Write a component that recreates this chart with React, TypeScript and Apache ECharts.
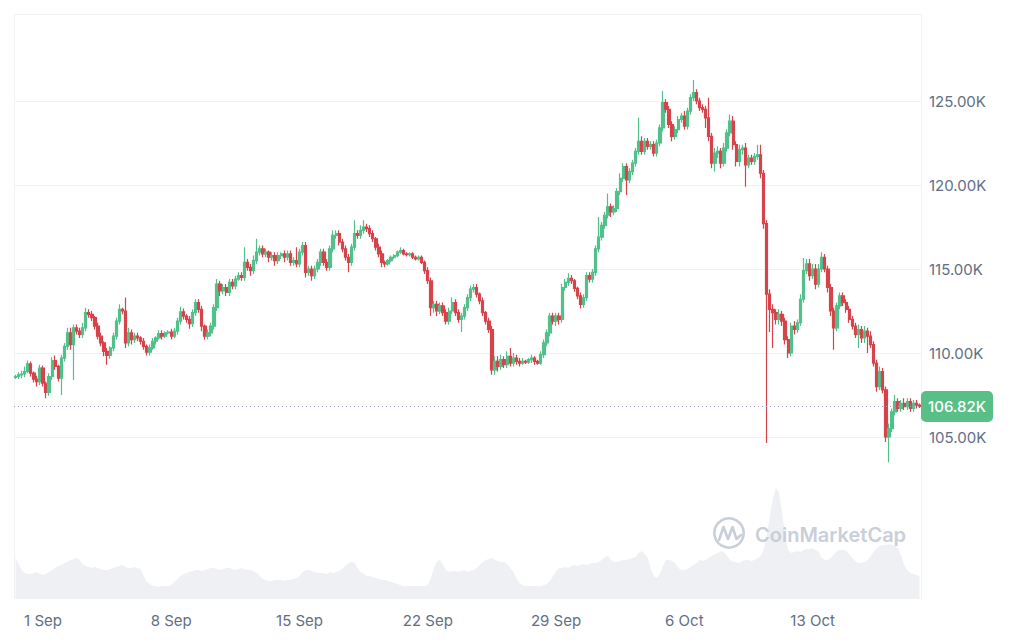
import React, { useEffect, useRef } from "react";
import * as echarts from "echarts";

// 4-hour candles starting 30 Aug 2025 12:00 UTC
const startTime = Date.UTC(2025, 7, 30, 12);
const stepHours = 4;
const firstOpen = 108.55;

// closing prices (thousands USD)
const closes = [
  108.6, 108.7, 108.75, 108.9, 109.35, 108.8, 108.45, 108.3, 109.1, 108.2,
  107.65, 108.6, 109.55, 109.2, 108.5, 109.7, 110.4, 111.2, 110.5, 111.5,
  111.3, 111.1, 111.5, 112.4, 112.3, 112.1, 111.6, 111.0, 110.6, 110.1,
  109.85, 110.3, 111.0, 111.9, 112.6, 112.5, 110.6, 111.2, 110.8, 111.0,
  110.9, 110.7, 110.4, 110.05, 110.3, 110.7, 110.9, 111.15, 111.0, 111.2,
  111.25, 111.0, 111.3, 111.9, 112.45, 112.2, 112.0, 111.75, 112.4, 113.0,
  112.6, 111.6, 111.0, 111.2, 111.6, 112.7, 114.1, 113.7, 113.9, 113.6,
  114.2, 114.0, 114.4, 114.6, 114.5, 115.4, 115.1, 114.9, 115.5, 116.0,
  116.2, 115.9, 116.0, 115.7, 115.8, 115.5, 115.8, 115.9, 115.7, 115.9,
  115.4, 115.5, 115.3, 116.0, 116.4, 114.8, 115.0, 114.6, 115.0, 115.4,
  116.0, 115.4, 115.1, 116.2, 117.0, 117.1, 116.6, 116.2, 115.7, 115.4,
  116.3, 117.1, 117.0, 117.3, 117.5, 117.4, 117.1, 116.8, 116.3, 115.9,
  115.4, 115.3, 115.5, 115.7, 115.8, 116.0, 116.1, 115.9, 115.85, 115.9,
  115.7, 115.6, 115.7, 115.4, 114.9, 114.3, 112.7, 112.9, 112.5, 112.8,
  112.4, 111.9, 112.5, 113.0, 112.4, 112.0, 112.2, 112.7, 113.3, 113.8,
  113.9, 113.5, 113.1, 112.4, 111.9, 111.4, 109.0, 109.5, 109.2, 109.6,
  109.3, 109.8, 109.4, 109.7, 109.5, 109.4, 109.5, 109.45, 109.6, 109.7,
  109.5, 109.4, 109.9, 110.6, 111.2, 112.2, 111.9, 112.2, 112.0, 113.9,
  114.2, 114.45, 114.3, 113.85, 113.4, 112.9, 113.3, 114.6, 114.4, 114.8,
  116.2, 116.9, 117.6, 118.2, 118.7, 118.4, 118.6, 119.6, 120.4, 121.1,
  120.3, 120.8, 121.3, 122.0, 122.6, 122.0, 122.6, 122.3, 122.4, 121.9,
  122.5, 123.4, 124.9, 124.5, 123.6, 122.9, 123.3, 123.9, 124.1, 123.5,
  124.4, 125.2, 125.5, 125.0, 124.6, 124.5, 124.0, 122.9, 121.3, 121.9,
  122.0, 121.3, 122.2, 123.1, 123.8, 122.4, 121.4, 122.1, 122.2, 121.2,
  121.6, 121.4, 121.7, 121.8, 120.7, 117.7, 113.5, 112.6, 112.4, 112.0,
  112.3, 111.9, 110.8, 110.0, 111.6, 111.4, 111.8, 113.2, 114.9, 115.3,
  114.6, 115.0, 114.1, 115.0, 115.7, 115.0, 113.9, 112.5, 111.5, 112.8,
  113.4, 113.0, 112.6, 112.0, 111.6, 111.1, 111.4, 110.9, 111.3, 111.0,
  110.5, 109.4, 108.0, 108.9, 107.8, 105.0, 105.5, 106.5, 107.1, 106.7,
  107.0, 106.8, 107.1, 106.7, 107.0, 106.9, 106.82,
];

// wick lengths above body top (thousands USD)
const upperWicks = [
  0.1, 0.15, 0.2, 0.3, 0.2, 0.15, 0.1, 0.2, 0.2, 0.15,
  0.1, 0.2, 0.2, 0.3, 0.1, 0.2, 0.2, 0.3, 0.3, 0.2,
  0.2, 0.2, 0.3, 0.3, 0.2, 0.2, 0.1, 0.2, 0.2, 0.1,
  0.2, 0.1, 0.2, 0.2, 0.3, 0.1, 0.8, 0.3, 0.2, 0.2,
  0.2, 0.1, 0.2, 0.1, 0.2, 0.2, 0.1, 0.2, 0.2, 0.1,
  0.1, 0.2, 0.2, 0.2, 0.3, 0.2, 0.1, 0.2, 0.2, 0.2,
  0.2, 0.2, 0.1, 0.2, 0.2, 0.2, 0.3, 0.2, 0.2, 0.2,
  0.2, 0.2, 0.2, 0.2, 0.2, 0.9, 0.2, 0.2, 0.3, 0.8,
  0.2, 0.2, 0.2, 0.1, 0.2, 0.2, 0.2, 0.1, 0.2, 0.2,
  0.2, 0.2, 0.8, 0.2, 0.2, 0.2, 0.2, 0.2, 0.2, 0.2,
  0.2, 0.2, 0.2, 0.2, 0.3, 0.2, 0.2, 0.2, 0.2, 0.2,
  0.2, 0.8, 0.2, 0.3, 0.4, 0.2, 0.2, 0.2, 0.1, 0.2,
  0.2, 0.1, 0.1, 0.1, 0.1, 0.1, 0.2, 0.1, 0.1, 0.1,
  0.1, 0.1, 0.1, 0.1, 0.1, 0.2, 0.2, 0.2, 0.2, 0.2,
  0.2, 0.2, 0.2, 0.3, 0.2, 0.2, 0.2, 0.2, 0.2, 0.2,
  0.2, 0.2, 0.1, 0.2, 0.1, 0.2, 0.2, 0.3, 0.3, 0.3,
  0.2, 0.3, 0.5, 0.3, 0.2, 0.2, 0.2, 0.1, 0.1, 0.2,
  0.1, 0.1, 0.2, 0.2, 0.2, 0.2, 0.2, 0.2, 0.2, 0.2,
  0.2, 0.3, 0.2, 0.1, 0.1, 0.2, 0.2, 0.2, 0.2, 0.2,
  0.2, 1.2, 0.2, 0.2, 0.8, 0.2, 0.2, 0.2, 0.3, 0.2,
  0.2, 0.2, 0.2, 0.2, 1.4, 0.3, 0.2, 0.2, 0.2, 0.2,
  0.2, 0.2, 0.7, 0.2, 0.2, 0.2, 0.2, 0.2, 0.2, 0.3,
  0.2, 0.2, 0.75, 0.2, 0.2, 0.2, 0.2, 1.2, 0.2, 0.3,
  0.3, 0.2, 0.3, 0.2, 0.4, 0.3, 0.2, 0.3, 0.2, 0.3,
  0.2, 0.2, 0.2, 0.6, 0.6, 0.2, 0.2, 0.3, 0.3, 0.2,
  0.3, 0.2, 0.2, 0.2, 0.2, 0.3, 0.2, 0.3, 0.75, 0.3,
  0.3, 0.3, 0.3, 0.3, 0.3, 0.2, 0.2, 0.2, 0.2, 0.2,
  0.2, 0.2, 0.2, 0.2, 0.2, 0.2, 0.3, 0.2, 0.3, 0.2,
  0.3, 0.2, 0.2, 0.3, 0.2, 0.2, 0.3, 0.2, 0.4, 0.2,
  0.2, 0.3, 0.2, 0.2, 0.2, 0.2, 0.1,
];

// wick lengths below body bottom (thousands USD)
const lowerWicks = [
  0.1, 0.15, 0.2, 0.2, 0.1, 0.2, 0.2, 0.3, 0.2, 0.2,
  0.35, 0.2, 0.2, 0.2, 0.2, 1.0, 0.2, 0.2, 0.3, 2.1,
  0.2, 0.2, 0.2, 0.2, 0.2, 0.2, 0.2, 0.2, 0.2, 0.3,
  0.55, 0.2, 0.2, 0.2, 0.2, 0.2, 0.3, 0.2, 0.3, 0.2,
  0.2, 0.2, 0.2, 0.2, 0.2, 0.1, 0.2, 0.1, 0.2, 0.1,
  0.1, 0.2, 0.1, 0.2, 0.2, 0.2, 0.2, 0.3, 0.2, 0.2,
  0.2, 0.3, 0.2, 0.2, 0.2, 0.2, 0.2, 0.3, 0.2, 0.2,
  0.2, 0.2, 0.2, 0.1, 0.2, 0.2, 0.2, 0.3, 0.2, 0.2,
  0.2, 0.2, 0.2, 0.3, 0.2, 0.3, 0.2, 0.2, 0.3, 0.2,
  0.2, 0.2, 0.2, 0.2, 0.2, 0.3, 0.2, 0.3, 0.2, 0.2,
  0.2, 0.2, 0.2, 0.2, 0.2, 0.2, 0.2, 0.2, 0.2, 0.6,
  0.2, 0.2, 0.2, 0.2, 0.2, 0.2, 0.2, 0.2, 0.2, 0.2,
  0.3, 0.2, 0.1, 0.1, 0.1, 0.1, 0.1, 0.1, 0.1, 0.1,
  0.1, 0.1, 0.1, 0.1, 0.2, 0.2, 0.5, 0.3, 0.3, 0.2,
  0.2, 0.2, 0.2, 0.2, 0.2, 0.2, 0.75, 0.2, 0.2, 0.2,
  0.2, 0.2, 0.2, 0.2, 0.2, 0.2, 0.3, 0.3, 0.3, 0.2,
  0.2, 0.2, 0.2, 0.2, 0.2, 0.2, 0.1, 0.1, 0.1, 0.2,
  0.2, 0.1, 0.1, 0.2, 0.2, 0.2, 0.2, 0.3, 0.3, 0.2,
  0.2, 0.2, 0.2, 0.2, 0.2, 0.25, 0.2, 0.2, 0.2, 0.2,
  0.2, 0.2, 0.2, 0.2, 0.2, 0.3, 0.2, 0.2, 0.2, 0.2,
  0.9, 0.2, 0.2, 0.2, 0.2, 0.2, 0.2, 0.2, 0.2, 0.2,
  0.2, 0.2, 0.2, 0.2, 0.2, 0.3, 0.2, 0.2, 0.2, 0.2,
  0.2, 0.2, 0.2, 0.2, 0.2, 0.2, 0.6, 0.3, 0.3, 0.5,
  0.3, 0.3, 0.2, 0.2, 0.2, 0.3, 0.3, 0.3, 0.3, 1.3,
  0.2, 0.2, 0.2, 0.2, 0.3, 0.3, 8.85, 1.35, 2.1, 0.3,
  0.3, 0.3, 0.3, 0.3, 0.2, 0.3, 0.2, 0.2, 0.2, 0.2,
  0.3, 0.2, 0.3, 0.2, 0.2, 0.2, 0.3, 0.3, 1.3, 0.2,
  0.2, 0.2, 0.2, 0.2, 0.2, 0.2, 0.8, 0.3, 0.3, 1.0,
  0.2, 0.2, 0.3, 0.2, 0.2, 0.3, 1.5, 0.2, 0.2, 0.2,
  0.2, 0.2, 0.2, 0.2, 0.2, 0.2, 0.1,
];

// traded volume (relative units)
const volumes = [
  40, 34, 28, 25, 24, 24, 25, 26, 24, 23,
  24, 26, 28, 30, 32, 33, 35, 36, 38, 39,
  40, 38, 34, 32, 31, 30, 31, 30, 29, 28,
  28, 29, 30, 31, 32, 33, 31, 30, 30, 31,
  30, 29, 22, 16, 14, 12, 12, 11, 12, 12,
  12, 13, 16, 19, 22, 24, 25, 26, 27, 28,
  28, 27, 28, 29, 30, 30, 29, 28, 29, 30,
  30, 29, 28, 29, 30, 29, 28, 28, 27, 25,
  22, 19, 18, 17, 17, 18, 18, 18, 17, 18,
  18, 19, 20, 22, 26, 28, 28, 27, 26, 25,
  25, 25, 24, 26, 25, 26, 27, 29, 32, 35,
  36, 35, 30, 26, 24, 22, 22, 21, 20, 19,
  18, 18, 17, 16, 15, 14, 13, 12, 12, 12,
  12, 12, 12, 12, 12, 13, 20, 30, 37, 38,
  33, 28, 26, 27, 27, 26, 27, 28, 26, 27,
  28, 30, 33, 36, 38, 39, 40, 38, 37, 36,
  36, 34, 30, 26, 20, 15, 13, 12, 12, 12,
  12, 12, 12, 13, 14, 17, 22, 27, 30, 30,
  31, 30, 32, 33, 32, 33, 34, 33, 34, 35,
  35, 36, 38, 41, 42, 38, 36, 36, 37, 38,
  38, 39, 40, 41, 45, 47, 44, 40, 30, 22,
  20, 24, 32, 38, 38, 37, 35, 30, 28, 28,
  29, 31, 33, 35, 38, 37, 38, 40, 42, 44,
  45, 47, 46, 42, 38, 36, 36, 35, 37, 38,
  38, 37, 38, 40, 42, 48, 62, 82, 100, 110,
  106, 86, 62, 48, 45, 46, 47, 46, 48, 49,
  49, 50, 48, 46, 40, 38, 38, 40, 44, 47,
  48, 48, 47, 44, 40, 37, 35, 35, 36, 38,
  42, 46, 50, 52, 53, 53, 54, 53, 52, 50,
  42, 33, 28, 25, 24, 23, 22,
];

const monthNames = ["Jan", "Feb", "Mar", "Apr", "May", "Jun", "Jul", "Aug", "Sep", "Oct", "Nov", "Dec"];
const labelAnchor = Date.UTC(2025, 8, 1); // 1 Sep, ticks weekly
const priceMin = 100;
const priceMax = 130;
const priceStep = 5;

const GREEN = "#52c08a";
const RED = "#d7434a";
const TEXT = "#616e85";
const GRIDLINE = "#eff2f5";
const WATERMARK = "#c9cfd9";

export default function App() {
  const ref = useRef<HTMLDivElement>(null);

  useEffect(() => {
    if (!ref.current) return;
    const chart = echarts.init(ref.current, null, { renderer: "svg" });

    const cats = closes.map((_, i) => String(startTime + i * stepHours * 3600000));
    const candles = closes.map((c, i) => {
      const o = i === 0 ? firstOpen : closes[i - 1];
      const hi = Math.max(o, c) + upperWicks[i];
      const lo = Math.min(o, c) - lowerWicks[i];
      return [o, c, +lo.toFixed(2), +hi.toFixed(2)];
    });
    const last = closes[closes.length - 1];

    const isWeekTick = (v: string) => {
      const t = Number(v);
      const d = new Date(t);
      if (d.getUTCHours() !== 0) return false;
      const days = Math.round((t - labelAnchor) / 86400000);
      return days >= 0 && days % 7 === 0;
    };

    chart.setOption({
      animation: false,
      backgroundColor: "#ffffff",
      textStyle: { fontFamily: "Inter, 'Noto Sans', sans-serif" },
      grid: [
        { left: 14, right: 103, top: 17, bottom: 121, outerBoundsMode: "none" },
        { left: 14, right: 103, top: 480, bottom: 44, outerBoundsMode: "none" },
      ],
      xAxis: [
        {
          type: "category",
          gridIndex: 0,
          data: cats,
          boundaryGap: true,
          axisLine: { show: false },
          axisTick: { show: false },
          axisLabel: { show: false },
          splitLine: { show: false },
        },
        {
          type: "category",
          gridIndex: 1,
          data: cats,
          boundaryGap: true,
          axisLine: { show: false },
          axisTick: { show: false },
          splitLine: { show: false },
          axisLabel: {
            show: true,
            margin: 15,
            color: TEXT,
            fontSize: 15,
            fontFamily: "Inter",
            interval: (_idx: number, v: string) => isWeekTick(v),
            formatter: (v: string) => {
              const d = new Date(Number(v));
              return `${d.getUTCDate()} ${monthNames[d.getUTCMonth()]}`;
            },
          },
        },
      ],
      yAxis: [
        {
          type: "value",
          gridIndex: 0,
          position: "right",
          min: priceMin,
          max: priceMax,
          interval: priceStep,
          axisLine: { show: false },
          axisTick: { show: false },
          axisLabel: {
            margin: 8,
            color: TEXT,
            fontSize: 15,
            fontFamily: "Inter",
            showMinLabel: false,
            showMaxLabel: false,
            formatter: (v: number) => (v <= priceMin || v >= priceMax ? "" : v.toFixed(2) + "K"),
          },
          splitLine: {
            show: true,
            showMinLine: false,
            showMaxLine: false,
            lineStyle: { color: GRIDLINE, width: 1 },
          },
        },
        {
          type: "value",
          gridIndex: 1,
          min: 0,
          max: 118,
          show: false,
          splitLine: { show: false },
        },
      ],
      series: [
        {
          type: "line",
          xAxisIndex: 1,
          yAxisIndex: 1,
          data: volumes,
          symbol: "none",
          silent: true,
          lineStyle: { width: 0, color: "#eef0f4" },
          areaStyle: { color: "#eef0f4", opacity: 1 },
          z: 1,
        },
        {
          type: "candlestick",
          xAxisIndex: 0,
          yAxisIndex: 0,
          data: candles,
          barWidth: "92%",
          barMaxWidth: 4,
          itemStyle: {
            color: GREEN,
            color0: RED,
            borderColor: GREEN,
            borderColor0: RED,
            borderWidth: 1.2,
          },
          z: 3,
          markLine: {
            silent: true,
            symbol: ["none", "none"],
            animation: false,
            lineStyle: { type: [1, 3], color: "#9aa2b0", width: 1 },
            label: {
              show: true,
              position: "end",
              distance: 0,
              formatter: (p: any) => Number(p.value).toFixed(2) + "K",
              backgroundColor: "#58bf87",
              color: "#ffffff",
              fontSize: 15,
              fontFamily: "Inter",
              fontWeight: 500,
              padding: [8, 7, 8, 7],
              borderRadius: 5,
            },
            data: [{ yAxis: last }],
          },
        },
      ],
      graphic: [
        {
          type: "rect",
          silent: true,
          z: 0,
          shape: { x: 14.5, y: 14.5, width: 907, height: 584 },
          style: { fill: "none", stroke: GRIDLINE, lineWidth: 1 },
        },
        {
          type: "ring",
          silent: true,
          z: 100,
          shape: { cx: 729, cy: 533, r: 16, r0: 13.4 },
          style: { fill: WATERMARK },
        },
        {
          type: "polyline",
          silent: true,
          z: 100,
          shape: {
            points: [
              [719, 540],
              [723.5, 527],
              [728, 539],
              [732.5, 527],
              [736.5, 539],
              [741, 535],
            ],
          },
          style: { stroke: WATERMARK, lineWidth: 2.6, fill: "none", lineJoin: "round", lineCap: "round" },
        },
        {
          type: "text",
          silent: true,
          z: 100,
          x: 755,
          y: 535,
          style: {
            text: "CoinMarketCap",
            fill: WATERMARK,
            font: "600 20px Inter",
            verticalAlign: "middle",
          },
        },
      ],
    });

    return () => chart.dispose();
  }, []);

  return (
    <div
      ref={ref}
      style={{ position: "fixed", left: 0, top: 0, width: 1024, height: 642, background: "#fff" }}
    />
  );
}
